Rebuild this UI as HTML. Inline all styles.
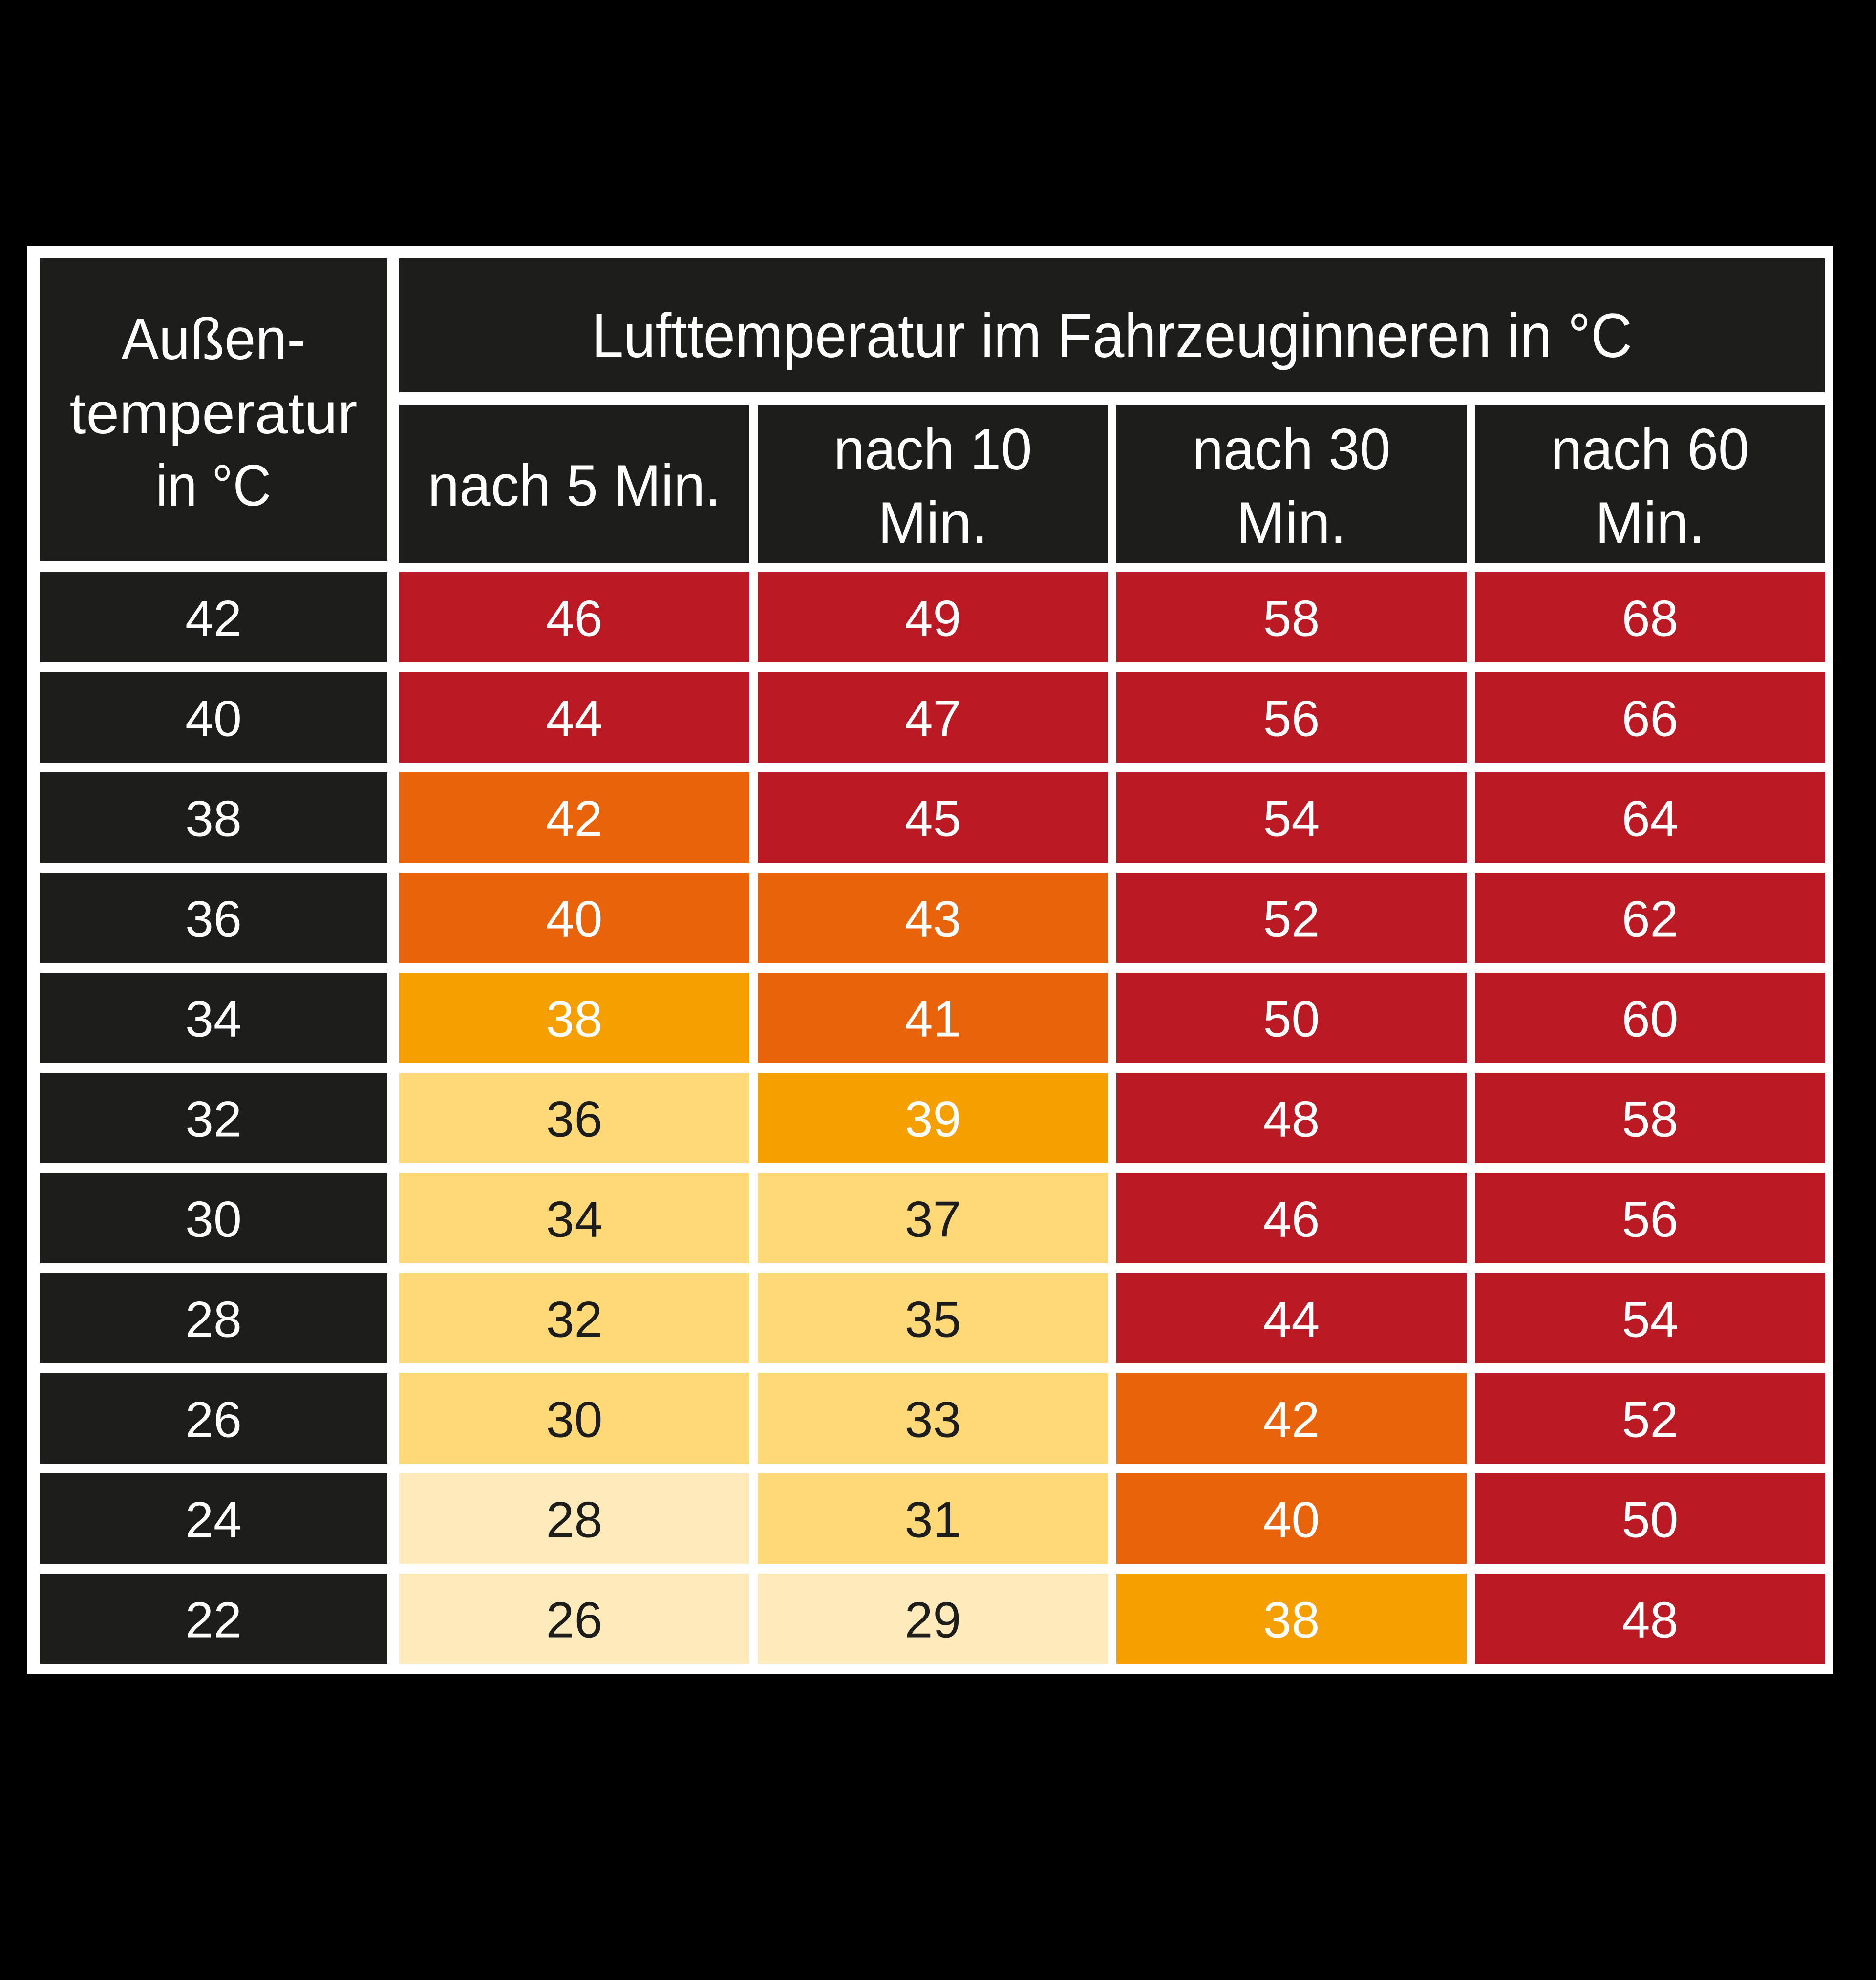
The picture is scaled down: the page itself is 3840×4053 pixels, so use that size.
<!DOCTYPE html>
<html><head><meta charset="utf-8"><style>
html,body{margin:0;padding:0;background:#000;width:3840px;height:4053px;overflow:hidden}
svg{display:block;font-family:"Liberation Sans",sans-serif}
</style></head><body>
<svg id="chart" width="3840" height="4053" xmlns="http://www.w3.org/2000/svg">
<rect x="0" y="0" width="3840" height="4053" fill="#000"/>
<rect x="56" y="504" width="3696" height="2922" fill="#fff"/>
<rect x="82" y="529" width="711" height="619" fill="#1d1d1b"/>
<text x="437" y="735" fill="#fff" font-size="120" text-anchor="middle" textLength="377" lengthAdjust="spacingAndGlyphs">Außen-</text>
<text x="437" y="887" fill="#fff" font-size="120" text-anchor="middle" textLength="589" lengthAdjust="spacingAndGlyphs">temperatur</text>
<text x="437" y="1035" fill="#fff" font-size="120" text-anchor="middle" textLength="236" lengthAdjust="spacingAndGlyphs">in °C</text>
<rect x="817" y="529" width="2918" height="274" fill="#1d1d1b"/>
<text x="2276" y="731" fill="#fff" font-size="128" text-anchor="middle" textLength="2130" lengthAdjust="spacingAndGlyphs">Lufttemperatur im Fahrzeuginneren in °C</text>
<g id="cols"></g>
<g id="rows"></g>
</svg>
<script>
const columns = ["nach 5 Min.", "nach 10 Min.", "nach 30 Min.", "nach 60 Min."];
const outsideTemps = [42, 40, 38, 36, 34, 32, 30, 28, 26, 24, 22];
const after5 = [46, 44, 42, 40, 38, 36, 34, 32, 30, 28, 26];
const after10 = [49, 47, 45, 43, 41, 39, 37, 35, 33, 31, 29];
const after30 = [58, 56, 54, 52, 50, 48, 46, 44, 42, 40, 38];
const after60 = [68, 66, 64, 62, 60, 58, 56, 54, 52, 50, 48];
const series = [after5, after10, after30, after60];

const NS = "http://www.w3.org/2000/svg";
const colX = i => 817 + i * 734;
const colW = 717;
const rowY = i => 1171 + i * 205;
const rowH = 185;
function color(v){
  if (v >= 44) return "#bb1a24";
  if (v >= 40) return "#e8630a";
  if (v >= 38) return "#f5a000";
  if (v >= 30) return "#ffd878";
  return "#feeabb";
}
function mk(tag, attrs, parent){
  const e = document.createElementNS(NS, tag);
  for (const k in attrs) e.setAttribute(k, attrs[k]);
  parent.appendChild(e);
  return e;
}
const cg = document.getElementById("cols");
columns.forEach((c, i) => {
  const r = mk("rect", {x: colX(i), y: 828, width: colW, height: 324, fill: "#1d1d1b"}, cg);
  
  
  const cx = colX(i) + colW / 2;
  if (i === 0) {
    const t = mk("text", {x: cx, y: 1035, fill: "#fff", "font-size": 120, "text-anchor": "middle", textLength: 600, lengthAdjust: "spacingAndGlyphs"}, cg);
    t.textContent = c;
    
    
  } else {
    const parts = c.split(" ");
    const l1 = parts[0] + " " + parts[1];
    const l2 = parts[2];
    const t1 = mk("text", {x: cx, y: 961, fill: "#fff", "font-size": 120, "text-anchor": "middle", textLength: 406, lengthAdjust: "spacingAndGlyphs"}, cg);
    t1.textContent = l1;
    
    
    const t2 = mk("text", {x: cx, y: 1111, fill: "#fff", "font-size": 120, "text-anchor": "middle", textLength: 225, lengthAdjust: "spacingAndGlyphs"}, cg);
    t2.textContent = l2;
    
    
  }
});
const rg = document.getElementById("rows");
outsideTemps.forEach((t, r) => {
  const y = rowY(r);
  const lr = mk("rect", {x: 82, y: y, width: 711, height: rowH, fill: "#1d1d1b"}, rg);
  
  
  const lt = mk("text", {x: 437, y: y + rowH / 2 + 38, fill: "#fff", "font-size": 104, "text-anchor": "middle"}, rg);
  lt.textContent = t;
  
  
  series.forEach((s, c) => {
    const v = s[r];
    const fill = color(v);
    const cr = mk("rect", {x: colX(c), y: y, width: colW, height: rowH, fill: fill}, rg);
    
    
    const dark = v < 38;
    const ct = mk("text", {x: colX(c) + colW / 2, y: y + rowH / 2 + 38, fill: dark ? "#1d1d1b" : "#fff", "font-size": 104, "text-anchor": "middle"}, rg);
    ct.textContent = v;
    
    
  });
});
</script>
</body></html>
